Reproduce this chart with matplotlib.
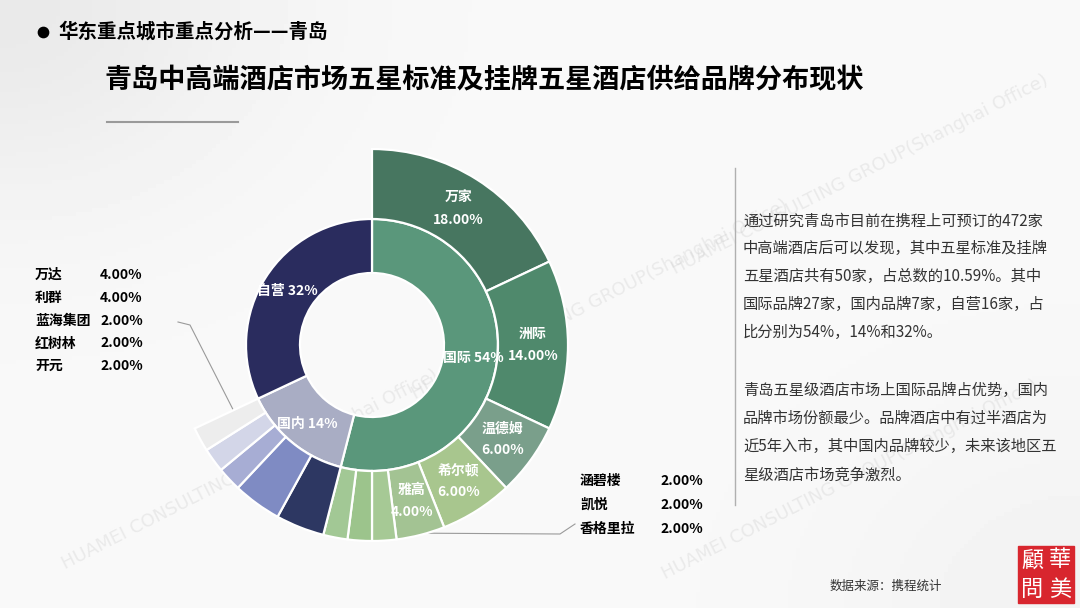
import numpy as np
import matplotlib
matplotlib.use("Agg")
import matplotlib.pyplot as plt

plt.rcParams["font.family"] = ["Noto Sans CJK SC", "DejaVu Sans"]

# data (share of the 50 five-star hotels, %)
group_names = ["国际", "国内", "自营"]
group_values = [54, 14, 32]
group_colors = ["#5a977b", "#a9adc4", "#2a2c5e"]

intl_brands = ["万家", "洲际", "温德姆", "希尔顿", "雅高", "涵碧楼", "凯悦", "香格里拉"]
intl_values = [18, 14, 6, 6, 4, 2, 2, 2]
intl_colors = ["#477660", "#4f896c", "#7a9f8b", "#a8c68e", "#a3c393",
               "#a6c995", "#9cc48c", "#a2c895"]

dom_brands = ["万达", "利群", "蓝海集团", "红树林", "开元"]
dom_values = [4, 4, 2, 2, 2]
dom_colors = ["#2d3762", "#7f8bc3", "#a7add4", "#d3d6e8", "#ededed"]

label_inside = ["万家", "洲际", "温德姆", "希尔顿", "雅高"]

title_small = "华东重点城市重点分析——青岛"
title_main = "青岛中高端酒店市场五星标准及挂牌五星酒店供给品牌分布现状"
para1 = ["通过研究青岛市目前在携程上可预订的472家",
         "中高端酒店后可以发现，其中五星标准及挂牌",
         "五星酒店共有50家，占总数的10.59%。其中",
         "国际品牌27家，国内品牌7家，自营16家，占",
         "比分别为54%，14%和32%。"]
para2 = ["青岛五星级酒店市场上国际品牌占优势，国内",
         "品牌市场份额最少。品牌酒店中有过半酒店为",
         "近5年入市，其中国内品牌较少，未来该地区五",
         "星级酒店市场竞争激烈。"]
source = "数据来源：携程统计"

W, H = 1080, 608
fig = plt.figure(figsize=(W / 100, H / 100), dpi=100)

# background axes in pixel coordinates (y down)
bg = fig.add_axes([0, 0, 1, 1])
bg.set_xlim(0, W)
bg.set_ylim(H, 0)
bg.axis("off")
yy, xx = np.mgrid[0:H:4, 0:W:4]
shade = 0.975 - 0.06 * np.exp(-((xx / 260.0) ** 2 + (yy / 200.0) ** 2))
shade -= 0.025 * np.exp(-(((xx - W) / 250.0) ** 2 + ((yy - H) / 200.0) ** 2))
bg.imshow(shade, cmap="gray", vmin=0, vmax=1, extent=(0, W, H, 0), aspect="auto", zorder=0)

# watermarks
wm = "HUAMEI CONSULTING GROUP(Shanghai Office)"
for x, y in [(250, 470), (600, 300), (860, 175), (850, 480)]:
    bg.text(x, y, wm, rotation=27, fontsize=13, color="#c8c8c8", alpha=0.3,
            ha="center", va="center", family=["DejaVu Sans"], zorder=1)

# headers
bg.scatter([43], [32], s=55, color="black", zorder=3)
bg.text(58, 32, title_small, fontsize=14, fontweight="bold", va="center", zorder=3)
bg.text(105, 80, title_main, fontsize=19.5, fontweight="bold", va="center", zorder=3)
bg.plot([107, 238], [122, 122], color="#9a9a9a", lw=1.5, zorder=3)

# right-side text
bg.plot([735, 735], [168, 505], color="#b0b0b0", lw=1, zorder=3)
for i, line in enumerate(para1):
    bg.text(743, 221 + i * 27.8, line, fontsize=11, color="#333333", va="center", zorder=3)
for i, line in enumerate(para2):
    bg.text(743, 390 + i * 28.3, line, fontsize=11, color="#333333", va="center", zorder=3)

# side lists for small slices
for i, (name, v) in enumerate(zip(dom_brands, dom_values)):
    bg.text(35, 275 + i * 22.8, name, fontsize=10, fontweight="bold", va="center", zorder=3)
    bg.text(100, 275 + i * 22.8, f"{v:.2f}%", fontsize=10, fontweight="bold", va="center", zorder=3)
small_intl = [(n, v) for n, v in zip(intl_brands, intl_values) if n not in label_inside]
for i, (name, v) in enumerate(small_intl):
    bg.text(580, 481 + i * 24, name, fontsize=10, fontweight="bold", va="center", zorder=3)
    bg.text(660, 481 + i * 24, f"{v:.2f}%", fontsize=10, fontweight="bold", va="center", zorder=3)

# leader lines
bg.plot([178, 190, 275], [322, 325, 492], color="#9a9a9a", lw=0.8, zorder=3)
bg.plot([395, 560, 575], [533, 534, 524], color="#9a9a9a", lw=0.8, zorder=3)

# source and seal
bg.text(830, 586, source, fontsize=9, color="#333333", va="center", zorder=3)
bg.add_patch(plt.Rectangle((1018, 546), 56, 57, color="#d8262e", zorder=3))
for ch, x, y in [("華", 1060, 560), ("美", 1060, 589), ("顧", 1032, 560), ("問", 1032, 589)]:
    bg.text(x, y, ch, fontsize=16, color="white", ha="center", va="center",
            family=["Noto Sans CJK TC"], zorder=4)

# sunburst
cx, cy, half = 372, 345, 220
ax = fig.add_axes([(cx - half) / W, (H - cy - half) / H, 2 * half / W, 2 * half / H])
ax.axis("off")
ax.patch.set_alpha(0)

r_in, r_mid, r_out = 72, 126, 196
edge = dict(edgecolor="white", linewidth=1.6)

inner, _ = ax.pie(group_values, radius=r_mid, startangle=90, counterclock=False,
                  colors=group_colors, wedgeprops=dict(width=r_mid - r_in, **edge))

outer_values = intl_values + dom_values + [group_values[2]]
outer_colors = intl_colors + dom_colors + ["none"]
outer, _ = ax.pie(outer_values, radius=r_out, startangle=90, counterclock=False,
                  colors=outer_colors, wedgeprops=dict(width=r_out - r_mid, **edge))
outer[-1].set_visible(False)
ax.set_xlim(-half, half)
ax.set_ylim(-half, half)


def mid_point(w, r):
    a = np.deg2rad((w.theta1 + w.theta2) / 2)
    return r * np.cos(a), r * np.sin(a)


label_r = [102, 102, 100]
for w, name, v, r in zip(inner, group_names, group_values, label_r):
    x, y = mid_point(w, r)
    ax.text(x, y, f"{name} {v}%", color="white", fontsize=10, fontweight="bold",
            ha="center", va="center")

for w, name, v in zip(outer, intl_brands, intl_values):
    if name in label_inside:
        x, y = mid_point(w, 161)
        ax.text(x, y, f"{name}\n{v:.2f}%", color="white", fontsize=10, fontweight="bold",
                ha="center", va="center", linespacing=1.7)

fig.savefig("out.png", dpi=100)
